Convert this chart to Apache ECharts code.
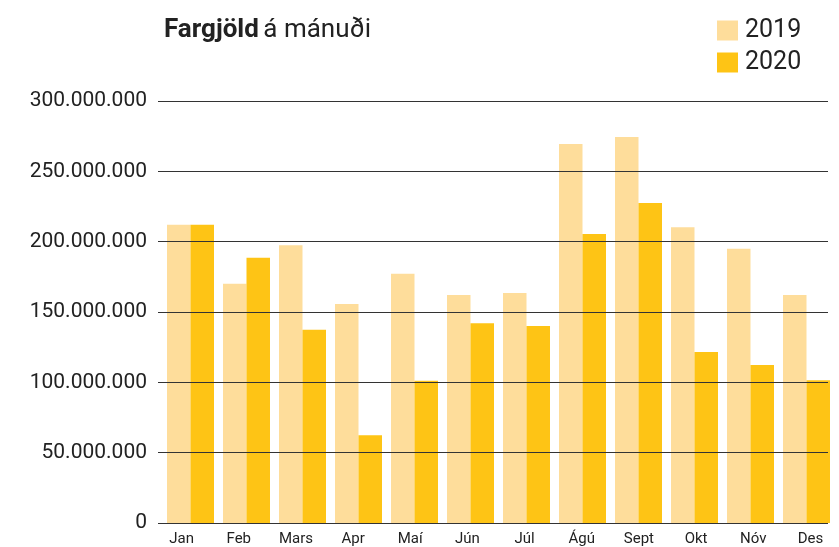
<!DOCTYPE html>
<html>
<head>
<meta charset="utf-8">
<script src="https://cdn.jsdelivr.net/npm/echarts@6/dist/echarts.min.js"></script>
<style>
  html, body { margin: 0; padding: 0; background: #fff; }
  #chart { width: 839px; height: 547px; }
</style>
</head>
<body>
<div id="chart"></div>
<script>
var months = ["Jan", "Feb", "Mars", "Apr", "Maí", "Jún", "Júl", "Ágú", "Sept", "Okt", "Nóv", "Des"];
var fares2019 = [212e6, 170e6, 197.5e6, 155.7e6, 177.2e6, 162e6, 163.5e6, 269.4e6, 274.4e6, 210.2e6, 195e6, 162e6];
var fares2020 = [212e6, 188.6e6, 137.4e6, 62.3e6, 101.2e6, 142e6, 140e6, 205.4e6, 227.5e6, 121.6e6, 112.3e6, 101.4e6];
var yTicks = { min: 0, max: 300e6, interval: 50e6 };

var chartDom = document.getElementById("chart");
var myChart = echarts.init(chartDom);
var font = "Roboto";

function dots(v) {
  return String(v).replace(/\B(?=(\d{3})+(?!\d))/g, ".");
}

var option = {
  animation: false,
  textStyle: { fontFamily: font },
  title: {
    text: "{b|Fargjöld} {r|á mánuði}",
    left: 159,
    top: 12,
    textStyle: {
      fontWeight: "normal",
      rich: {
        b: { fontFamily: font, fontSize: 26, fontWeight: "bold", color: "#222" },
        r: { fontFamily: font, fontSize: 26, fontWeight: "normal", color: "#222" },
      },
    },
  },
  legend: {
    orient: "vertical",
    left: 717,
    top: 18,
    padding: 0,
    itemWidth: 21,
    itemHeight: 20,
    itemGap: 7,
    icon: "rect",
    textStyle: { fontFamily: font, fontSize: 25, color: "#222", padding: [0, 0, 0, 2] },
    data: ["2019", "2020"],
  },
  grid: [
    // gridlines + y labels
    { left: 158, right: 11, top: 101, bottom: 24 },
    // bars
    { left: 162.5, right: 4.5, top: 101, bottom: 24 },
    // month labels
    { left: 153, right: 0, top: 101, bottom: 24 },
  ],
  xAxis: [
    {
      gridIndex: 0,
      type: "category",
      data: months,
      axisLine: { show: false },
      axisTick: { show: false },
      axisLabel: { show: false },
    },
    {
      gridIndex: 1,
      type: "category",
      data: months,
      show: false,
    },
    {
      gridIndex: 2,
      type: "category",
      data: months,
      axisLine: { show: false },
      axisTick: { show: false },
      axisLabel: { margin: 12, fontFamily: font, fontSize: 15, color: "#222" },
    },
  ],
  yAxis: [
    {
      gridIndex: 0,
      type: "value",
      min: yTicks.min,
      max: yTicks.max,
      interval: yTicks.interval,
      z: 10,
      axisLine: { show: false },
      axisTick: { show: false },
      axisLabel: {
        margin: 11,
        fontFamily: font,
        fontSize: 21,
        color: "#222",
        formatter: dots,
      },
      splitLine: { lineStyle: { color: "#333", width: 1 } },
    },
    {
      gridIndex: 1,
      type: "value",
      min: yTicks.min,
      max: yTicks.max,
      show: false,
    },
    {
      gridIndex: 2,
      type: "value",
      min: yTicks.min,
      max: yTicks.max,
      show: false,
    },
  ],
  series: [
    {
      name: "2019",
      type: "bar",
      xAxisIndex: 1,
      yAxisIndex: 1,
      data: fares2019,
      barWidth: 23.5,
      barGap: "0%",
      itemStyle: { color: "#FEDD9B" },
    },
    {
      name: "2020",
      type: "bar",
      xAxisIndex: 1,
      yAxisIndex: 1,
      data: fares2020,
      barWidth: 23.5,
      barGap: "0%",
      itemStyle: { color: "#FEC415" },
    },
  ],
};

option && myChart.setOption(option);
</script>
</body>
</html>
